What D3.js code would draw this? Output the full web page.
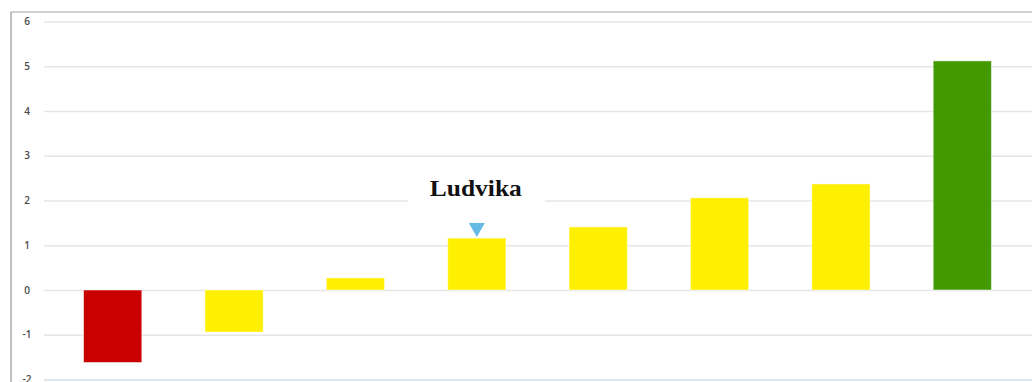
<!DOCTYPE html>
<html>
<head>
<meta charset="utf-8">
<script src="https://cdn.jsdelivr.net/npm/d3@7"></script>
<style>
  html, body { margin: 0; padding: 0; background: #fff; }
  svg { display: block; }
</style>
</head>
<body>
<svg id="chart" width="1032" height="382"></svg>
<script>
// Municipalities ranked by value; the highlighted one carries a label
const categories = ["A", "B", "C", "Ludvika", "E", "F", "G", "H"];
const values = [-1.62, -0.94, 0.27, 1.16, 1.41, 2.06, 2.37, 5.12];
const barColors = ["#c80000", "#ffef00", "#ffef00", "#ffef00", "#ffef00", "#ffef00", "#ffef00", "#439a00"];
const tickValues = [-2, -1, 0, 1, 2, 3, 4, 5, 6];
const highlight = "Ludvika";

const svg = d3.select("#chart");
const W = 1032, H = 382;

const x = d3.scaleBand()
  .domain(categories)
  .range([52, 1023])
  .paddingInner(0.52)
  .paddingOuter(0.26);

const y = d3.scaleLinear()
  .domain([-2, 6])
  .range([379.5, 21.5]);

// Frame: left and top edges
svg.append("line")
  .attr("x1", 11).attr("x2", 11).attr("y1", 12).attr("y2", H)
  .attr("stroke", "#ababab").attr("stroke-width", 1.5);
svg.append("line")
  .attr("x1", 11).attr("x2", W).attr("y1", 12).attr("y2", 12)
  .attr("stroke", "#a0a0a0").attr("stroke-width", 1.2);

// Horizontal grid
const yAxis = d3.axisLeft(y)
  .tickValues(tickValues)
  .tickSize(-(W - 44))
  .tickPadding(14)
  .tickFormat(d => String(d));

const gAxis = svg.append("g")
  .attr("transform", "translate(44,0)")
  .call(yAxis);
gAxis.select(".domain").remove();
gAxis.selectAll(".tick line")
  .attr("stroke", d => d === -2 ? "#d5dde6" : "#e6e6e6")
  .attr("stroke-width", 1.5);
gAxis.selectAll(".tick text")
  .attr("fill", "#4a4a4a")
  .attr("font-family", "'Open Sans', 'DejaVu Sans', sans-serif")
  .attr("font-size", 10)
  .attr("font-weight", 600)
  .attr("text-anchor", "middle")
  .attr("x", -17);

// Bars
svg.append("g")
  .selectAll("rect")
  .data(categories)
  .join("rect")
  .attr("x", d => x(d))
  .attr("width", x.bandwidth())
  .attr("y", (d, i) => y(Math.max(0, values[i])))
  .attr("height", (d, i) => Math.abs(y(values[i]) - y(0)))
  .attr("fill", (d, i) => barColors[i])
  .attr("stroke", "#ffffff")
  .attr("stroke-opacity", 0.5)
  .attr("stroke-width", 1);

// Highlight marker and label
const hi = categories.indexOf(highlight);
const cx = x(highlight) + x.bandwidth() / 2;
const topY = y(values[hi]);

svg.append("path")
  .attr("d", `M${cx - 8},${topY - 15} L${cx + 8},${topY - 15} L${cx},${topY - 1} Z`)
  .attr("fill", "#66bbe6");

const labelY = topY - 42;
svg.append("rect")
  .attr("x", cx - 69).attr("y", labelY - 20)
  .attr("width", 137).attr("height", 29)
  .attr("fill", "#ffffff");
svg.append("text")
  .attr("x", cx - 1).attr("y", labelY)
  .attr("text-anchor", "middle")
  .attr("font-family", "'Liberation Serif', 'DejaVu Serif', serif")
  .attr("font-weight", "bold")
  .attr("font-size", 24)
  .attr("textLength", 92)
  .attr("lengthAdjust", "spacingAndGlyphs")
  .attr("fill", "#111")
  .text(highlight);
</script>
</body>
</html>
